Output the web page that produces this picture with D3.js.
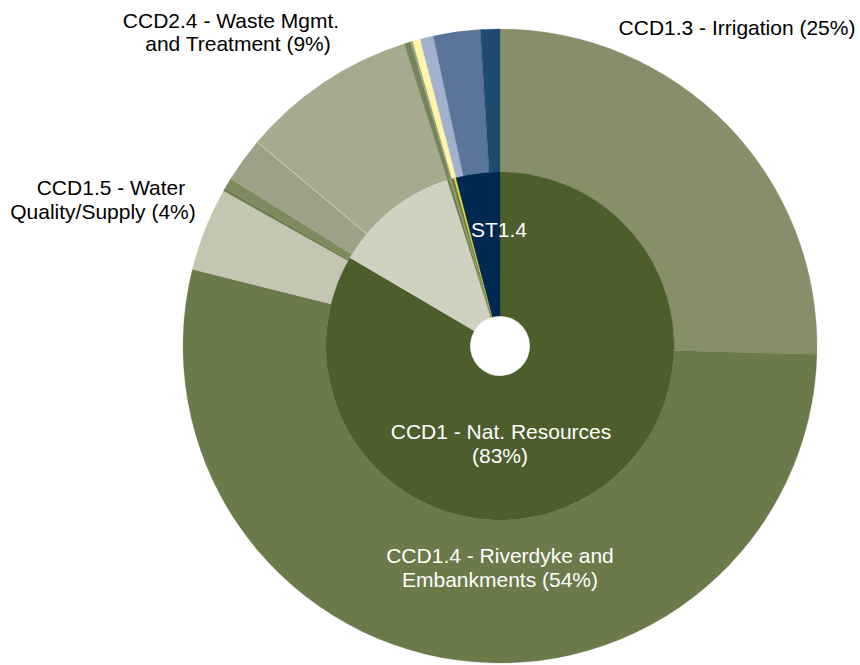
<!DOCTYPE html>
<html>
<head>
<meta charset="utf-8">
<script src="https://cdn.jsdelivr.net/npm/d3@7"></script>
<style>
  body { margin: 0; background: #fff; }
  svg text { font-family: "Liberation Sans", Arial, sans-serif; font-size: 21px; }
</style>
</head>
<body>
<div id="chart"></div>
<script>
var width = 860;
var height = 665;
var cx = 500, cy = 346;
var holeR = 30, midR = 174, outerR = 317;

// inner ring: groups (share of total, %)
var innerNames = ["CCD1", "CCD2", "G3a", "G3b", "G3c", "Y", "ST1"];
var innerValues = [83.47, 11.64, 0.22, 0.17, 0.25, 0.17, 4.08];
var innerColors = ["#4b5e2c", "#cfd1c1", "#6b7a4a", "#8d9a6c", "#6b7a4a", "#f2e21a", "#002850"];

// outer ring: sub categories (share of total, %)
var outerNames = ["CCD1.3", "CCD1.4", "CCD1.5", "CCD1.6", "CCD1.7", "CCD2.2", "CCD2.4",
                  "X1", "X2", "Y1", "ST1.1", "ST1.2", "ST1.4"];
var outerValues = [25.42, 53.47, 4.25, 0.14, 0.56, 2.28, 9.0, 0.33, 0.11, 0.39, 0.67, 2.39, 0.99];
var outerColors = ["#878f6a", "#6b7a4a", "#c4c6b2", "#6b7a4a", "#7d8b5e", "#9ea187", "#a6aa8f",
                   "#75845a", "#9aa67a", "#fff4aa", "#a3b2cc", "#5a7599", "#1f4a70"];

var labels = [
    { text: "CCD1.3 - Irrigation (25%)", x: 737, y: 27, fill: "#000" },
    { text: "CCD2.4 - Waste Mgmt.", x: 231, y: 20, fill: "#000" },
    { text: "and Treatment (9%)", x: 238, y: 43, fill: "#000" },
    { text: "CCD1.5 - Water", x: 111, y: 187, fill: "#000" },
    { text: "Quality/Supply (4%)", x: 103, y: 211, fill: "#000" },
    { text: "ST1.4", x: 499, y: 229, fill: "#fff" },
    { text: "CCD1 - Nat. Resources", x: 501, y: 431, fill: "#fff" },
    { text: "(83%)", x: 500, y: 455, fill: "#fff" },
    { text: "CCD1.4 - Riverdyke and", x: 500, y: 555, fill: "#fff" },
    { text: "Embankments (54%)", x: 500, y: 579, fill: "#fff" }
];

var svg = d3.select("#chart")
    .append("svg")
    .attr("width", width)
    .attr("height", height);

var g = svg.append("g")
    .attr("transform", "translate(" + cx + "," + cy + ")");

var pie = d3.pie()
    .value(function (d) { return d; })
    .sort(null);

var innerArc = d3.arc().innerRadius(holeR).outerRadius(midR);
var outerArc = d3.arc().innerRadius(midR).outerRadius(outerR);

g.append("g").selectAll("path")
    .data(pie(outerValues))
    .enter()
    .append("path")
    .attr("d", outerArc)
    .attr("fill", function (d, i) { return outerColors[i]; })
    .attr("stroke", function (d, i) { return outerColors[i]; })
    .attr("stroke-width", 0.3);

g.append("g").selectAll("path")
    .data(pie(innerValues))
    .enter()
    .append("path")
    .attr("d", innerArc)
    .attr("fill", function (d, i) { return innerColors[i]; })
    .attr("stroke", function (d, i) { return innerColors[i]; })
    .attr("stroke-width", 0.3);

// thin separator between CCD2.2 and CCD2.4
var outerPie = pie(outerValues);
var sepAngle = outerPie[6].startAngle;
g.append("line")
    .attr("x1", midR * Math.sin(sepAngle))
    .attr("y1", -midR * Math.cos(sepAngle))
    .attr("x2", outerR * Math.sin(sepAngle))
    .attr("y2", -outerR * Math.cos(sepAngle))
    .attr("stroke", "#d6d8c8")
    .attr("stroke-width", 0.8);

svg.append("g").selectAll("text")
    .data(labels)
    .enter()
    .append("text")
    .attr("x", function (d) { return d.x; })
    .attr("y", function (d) { return d.y; })
    .attr("text-anchor", "middle")
    .attr("dominant-baseline", "central")
    .attr("fill", function (d) { return d.fill; })
    .text(function (d) { return d.text; });
</script>
</body>
</html>
